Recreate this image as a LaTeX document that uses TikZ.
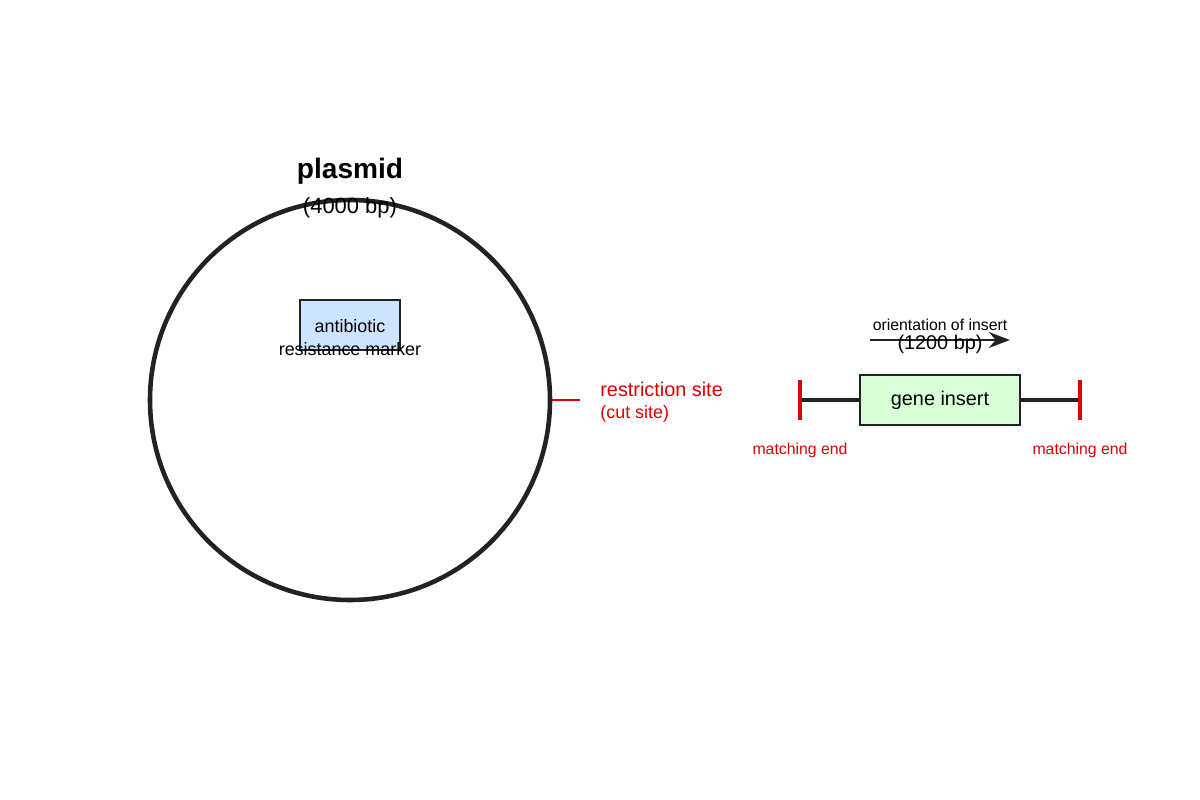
\documentclass[tikz,border=0pt]{standalone}
\usepackage{fontspec}
\setmainfont{Liberation Sans}
\usetikzlibrary{calc,positioning,arrows.meta}
\definecolor{ink}{HTML}{222222}
\definecolor{cutred}{HTML}{DD0000}
\definecolor{markerblue}{HTML}{CCE4FF}
\definecolor{insertgreen}{HTML}{D9FFD9}
\tikzset{
  lbl/.style={draw=none,fill=none,inner sep=0pt},
  redlbl/.style={lbl,text=cutred},
  box/.style={draw=ink,line width=1pt}
}
\begin{document}
\begin{tikzpicture}[x=0.02cm,y=-0.02cm]
  \useasboundingbox (0,0) rectangle (1200,800);
  % Plasmid
  \node[draw=ink,line width=2.6pt,circle,minimum size=400*0.02cm,inner sep=0pt] (plasmid) at (350,400) {};
  \node[lbl,font=\fontsize{16}{18}\selectfont\bfseries] (ptitle) at (350,171) {plasmid};
  \node[lbl,font=\fontsize{12.5}{14}\selectfont] (psize) at (350,208) {(4000 bp)};

  % Marker
  \node[box,fill=markerblue,minimum width=100*0.02cm,minimum height=50*0.02cm] (marker) at (350,325) {};
  \node[lbl,font=\fontsize{10.2}{12}\selectfont] (mtext1) at (350,326) {antibiotic};
  \node[lbl,font=\fontsize{10.2}{12}\selectfont] (mtext2) at (350,349) {resistance marker};

  % Restriction site
  \coordinate (cutA) at (plasmid.east);
  \coordinate (cutB) at (580,400);
  \draw[cutred,line width=1.7pt] (cutA) -- (cutB);
  \node[redlbl,anchor=west,font=\fontsize{11.3}{13}\selectfont] (rsite) at (600,389) {restriction site};
  \node[redlbl,anchor=west,font=\fontsize{10.2}{12}\selectfont] (csite) at (600,414) {(cut site)};

  % Gene insert
  \coordinate (endL) at (800,400);
  \coordinate (endR) at (1080,400);
  \node[box,fill=insertgreen,minimum width=160*0.02cm,minimum height=50*0.02cm,font=\fontsize{11.3}{13}\selectfont] (insert) at (940,400) {gene insert};
  \draw[ink,line width=2.6pt] (endL) -- (insert.west);
  \draw[ink,line width=2.6pt] (insert.east) -- (endR);
  \draw[cutred,line width=2.2pt] ($(endL)+(0,-20)$) -- ($(endL)+(0,20)$);
  \draw[cutred,line width=2.2pt] ($(endR)+(0,-20)$) -- ($(endR)+(0,20)$);
  \node[redlbl,font=\fontsize{9}{11}\selectfont] (mendL) at (800,450) {matching end};
  \node[redlbl,font=\fontsize{9}{11}\selectfont] (mendR) at (1080,450) {matching end};

  % Orientation
  \coordinate (oriA) at (870,340);
  \coordinate (oriB) at (1010,340);
  \draw[ink,line width=1.7pt,-{Stealth[length=12pt,width=9pt]}] (oriA) -- (oriB);
  \node[lbl,font=\fontsize{9}{11}\selectfont] (otext) at (940,325) {orientation of insert};
  \node[lbl,font=\fontsize{11.3}{13}\selectfont] (isize) at (940,344) {(1200 bp)};
\end{tikzpicture}
\end{document}
